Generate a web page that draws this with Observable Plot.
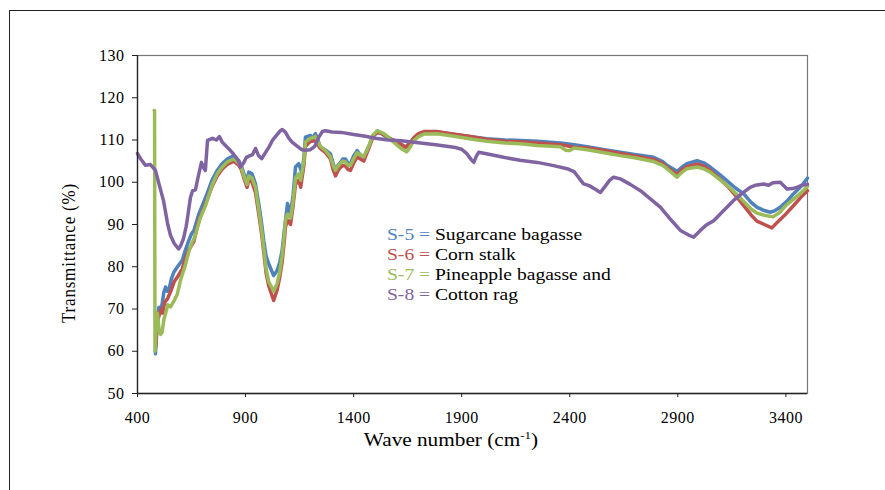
<!DOCTYPE html>
<html>
<head>
<meta charset="utf-8">
<script src="https://cdn.jsdelivr.net/npm/d3@7"></script>
<script src="https://cdn.jsdelivr.net/npm/@observablehq/plot@0.6"></script>
<style>
  html, body { margin: 0; padding: 0; background: #fff; }
  #wrap { position: relative; width: 885px; height: 490px; overflow: hidden; font-family: "Liberation Serif", "Times New Roman", serif; }
  #outer { position: absolute; left: 9px; top: 10px; width: 1000px; height: 600px; border-left: 1.5px solid #222; border-top: 1.5px solid #222; }
  #chart { position: absolute; left: 0; top: 0; }
  .lab { position: absolute; color: #000; white-space: nowrap; }
  #ylab { left: 69px; top: 253px; font-size: 17px; letter-spacing: 0.8px; transform: translate(-50%, -50%) rotate(-90deg) scaleY(1.12); }
  #xlab { left: 451px; top: 440px; font-size: 18px; transform: translate(-50%, -50%) scaleX(1.18); }
  #xlab sup { font-size: 11px; vertical-align: 7px; }
  #legend { position: absolute; left: 387px; top: 225px; font-size: 17px; line-height: 20px; color: #000; transform: scaleX(1.15); transform-origin: 0 0; }
  #chart svg text { font-family: "Liberation Serif", "Times New Roman", serif; letter-spacing: 0.5px; }
</style>
</head>
<body>
<div id="wrap">
  <div id="outer"></div>
  <div id="chart"></div>
  <div class="lab" id="ylab">Transmittance (%)</div>
  <div class="lab" id="xlab">Wave number (cm<sup>-1</sup>)</div>
  <div id="legend"></div>
</div>
<script>
// ---- Data ----
const seriesNames = ["S-5", "S-6", "S-7", "S-8"];
const seriesLabels = ["Sugarcane bagasse", "Corn stalk", "Pineapple bagasse and", "Cotton rag"];
const seriesColors = ["#4F81BD", "#C0504D", "#9BBB59", "#8064A2"];
const xTicks = [400, 900, 1400, 1900, 2400, 2900, 3400];
const yTicks = [50, 60, 70, 80, 90, 100, 110, 120, 130];

const s5Wave = [483,490,499,507,514,522,530,537,545,556,568,585,607,622,637,650,661,672,684,700,722,745,769,790,815,845,869,880,892,907,915,930,946,961,975,984,995,1007,1030,1046,1058,1069,1078,1085,1094,1108,1120,1131,1146,1162,1170,1177,1200,1210,1223,1235,1246,1270,1293,1305,1316,1328,1339,1350,1362,1375,1385,1400,1416,1430,1447,1470,1490,1509,1525,1540,1570,1601,1625,1640,1660,1678,1700,1725,1786,1850,1950,2017,2100,2171,2250,2357,2420,2480,2560,2634,2700,2788,2830,2850,2896,2920,2942,2989,3020,3050,3090,3127,3165,3204,3240,3266,3300,3328,3350,3374,3410,3436,3470,3500];
const s5T = [59.4,66,70.4,70,71.2,74,75.2,74.2,74.4,77,78.7,80,81.5,84,86.2,87.8,88.6,90.5,92.5,94.5,97.3,100.5,102.8,104.3,105.5,106.3,105.1,104,102,100.4,102.4,102,99.6,94.9,90,86.2,82.5,80.7,77.9,79.1,81,83.8,88,91,95,92.5,97,103.6,104.4,102,106,110.7,111.1,110.5,111.5,110,108.3,107.6,106.7,104.5,102.8,104,104.7,105.5,105.5,104.4,104.4,106.2,107.5,106.5,105.9,108.5,111,111.8,111.7,111.1,110.3,109.5,108.8,108.3,109.2,110.3,111.3,111.8,111.9,111.4,110.7,110.3,110,109.9,109.7,109.3,108.9,108.4,107.7,107.1,106.6,105.9,104.9,104,102.6,103.6,104.4,105.1,104.6,103.6,102,100.4,98.7,97.3,95.2,94.1,93.3,92.9,93.3,94.1,95.8,97.3,99,101];

const s6Wave = [484,492,500,510,517,525,540,556,570,590,607,622,637,650,661,672,684,700,722,745,769,790,815,845,869,880,892,907,915,930,946,961,975,984,995,1007,1030,1046,1058,1069,1078,1085,1094,1108,1120,1131,1146,1155,1170,1177,1200,1223,1246,1270,1293,1305,1316,1328,1339,1350,1362,1375,1385,1400,1416,1447,1470,1490,1509,1540,1570,1601,1640,1660,1678,1700,1725,1786,1850,1950,2017,2100,2171,2250,2357,2420,2480,2560,2634,2700,2788,2830,2850,2896,2920,2942,2989,3020,3050,3090,3127,3165,3204,3240,3266,3300,3335,3360,3400,3436,3470,3500];
const s6T = [61,67,68.5,70,69,71.5,72.5,74.5,76.5,78,79.5,82,84,85,86,88.5,91,93,95.8,99,101.5,103,104.2,105,104,103,101,98.8,100.5,100,97.5,92.5,87.5,83.5,78.5,75.5,72,74.5,77.5,81,85.5,89.5,91,90,94.5,99.5,100.5,98.8,104,108.5,109.7,109.8,108,107,105.5,103,101.5,102.8,103.5,104,103.8,103,102.8,104.5,106,105,108,110.8,111.9,111.3,110.3,109.6,108.3,109.3,110.5,111.5,112,112,111.5,110.8,110.1,109.7,109.6,109.3,108.9,108.3,108.1,107.5,106.8,106.2,105.4,104.4,103.5,101.8,103,103.7,104.3,103.8,102.8,101,99.2,97,94.5,92.2,90.8,90,89.2,90.5,92.5,94.5,96.5,98];

const s7Wave = [477,479,481,486,492,500,507,514,522,530,540,553,570,584,600,622,637,653,665,676,690,715,745,769,790,815,845,869,880,892,907,915,930,946,961,975,984,995,1007,1030,1046,1058,1069,1078,1085,1094,1108,1120,1131,1146,1155,1170,1177,1200,1223,1246,1270,1293,1305,1316,1328,1339,1350,1362,1375,1385,1400,1416,1447,1470,1490,1509,1540,1570,1601,1625,1645,1660,1678,1700,1725,1786,1850,1950,2017,2100,2171,2250,2357,2380,2400,2420,2480,2560,2634,2700,2788,2830,2850,2896,2920,2942,2989,3020,3050,3090,3127,3165,3204,3240,3266,3300,3340,3370,3400,3436,3470,3500];
const s7T = [117,117,60,66,69,65,64,64.5,67.5,69,71,70.5,72,73.5,77,80.5,83.5,85.8,87,89,91.5,94.5,99.3,102,103.5,104.8,105.5,104.5,103.5,101.5,99.5,101.5,101,98.8,93.5,88.5,84.5,79.5,76.5,74.2,76,78.8,82.5,87,91,92.5,91.5,95.5,101,102,100.5,105,109.5,110.4,110.8,108.5,107.5,106,104,102.8,103.8,104.5,105,104.8,104,104,105.5,107,106,108.5,111.2,112.2,111.5,110.2,108.8,107.8,107.2,108.2,109.8,110.8,111.4,111.5,111,110.2,109.7,109.3,109.1,108.7,108.4,107.6,107.5,108.1,107.7,107,106.3,105.8,104.9,104,103.2,101.2,102.4,103.2,103.6,103.2,102.4,100.8,99.3,97.5,95.5,93.6,92.7,92.2,91.8,92.8,94.5,96,97.5,99];

const s8Wave = [400,415,437,460,483,500,520,540,553,570,590,600,613,625,631,645,655,668,682,696,705,714,724,747,765,779,792,807,830,844,867,876,890,904,920,932,946,960,975,992,1010,1024,1045,1061,1070,1085,1098,1115,1140,1160,1177,1200,1220,1237,1255,1270,1300,1343,1400,1455,1500,1560,1620,1709,1780,1863,1900,1925,1945,1956,1968,1979,2020,2094,2170,2249,2320,2388,2420,2434,2450,2464,2490,2520,2542,2560,2585,2603,2634,2680,2727,2770,2819,2870,2912,2950,2973,3004,3030,3066,3110,3158,3200,3235,3260,3297,3320,3340,3374,3390,3405,3430,3451,3475,3500];
const s8T = [106.8,105.5,104,104.2,102.8,99.5,95.7,90,87.4,85.5,84.2,85,86.7,89.5,91.4,96.4,98,98.2,101.6,104.7,103.5,102.8,109.9,110.4,110,110.8,109.5,108.7,107.5,106.7,105.1,103.6,104.5,105.9,106.3,106.5,108,106.3,105.6,107,108.5,109.9,111.2,112.2,112.5,111.8,110.6,109.5,108.5,107.7,107.6,107.7,108.5,110.5,112,112.2,111.9,111.8,111.3,110.9,110.4,110,109.8,109.3,108.9,108.3,107.8,106.7,105.3,104.7,106.2,107.1,106.7,105.9,105.2,104.7,104,103.2,102.5,101.6,100.5,99.6,99.2,98.3,97.6,98.8,100.5,101.2,100.8,99.5,98,96.2,94.1,91,88.6,87.5,87,88.6,89.8,90.9,93.2,95.7,97.5,98.8,99.3,99.6,99.3,99.9,100,99.2,98.4,98.5,98.8,99.3,99.5];

// ---- Build tables ----
const waves = [s5Wave, s6Wave, s7Wave, s8Wave];
const trans = [s5T, s6T, s7T, s8T];
const lineMarks = waves.map((ws, i) =>
  Plot.line(ws.map((w, j) => ({w, t: trans[i][j]})), {
    x: "w", y: "t", stroke: seriesColors[i], strokeWidth: 3.5,
    strokeLinejoin: "round", strokeLinecap: "round"
  })
);

const chart = Plot.plot({
  width: 885, height: 490,
  marginLeft: 137, marginRight: 78, marginTop: 55, marginBottom: 97,
  style: {fontSize: "16px", color: "#000", background: "transparent", overflow: "visible"},
  x: {domain: [400, 3500]},
  y: {domain: [50, 130]},
  marks: [
    Plot.frame({stroke: "#777", strokeWidth: 1.2}),
    ...lineMarks,
    Plot.ruleX([400], {stroke: "#222", strokeWidth: 1.3}),
    Plot.ruleY([50], {stroke: "#222", strokeWidth: 1.3}),
    Plot.axisX(xTicks, {tickSize: 4, tickPadding: 14, tickFormat: d => String(d), label: null, stroke: "#222", fontSize: 16}),
    Plot.axisY(yTicks, {tickSize: 5, tickPadding: 8, tickFormat: d => String(d), label: null, stroke: "#222", fontSize: 16})
  ]
});
document.getElementById("chart").appendChild(chart);

// ---- Legend ----
const legend = document.getElementById("legend");
seriesNames.forEach((n, i) => {
  const row = document.createElement("div");
  row.innerHTML = `<span style="color:${seriesColors[i]}">${n} =</span> ${seriesLabels[i]}`;
  legend.appendChild(row);
});
</script>
</body>
</html>
